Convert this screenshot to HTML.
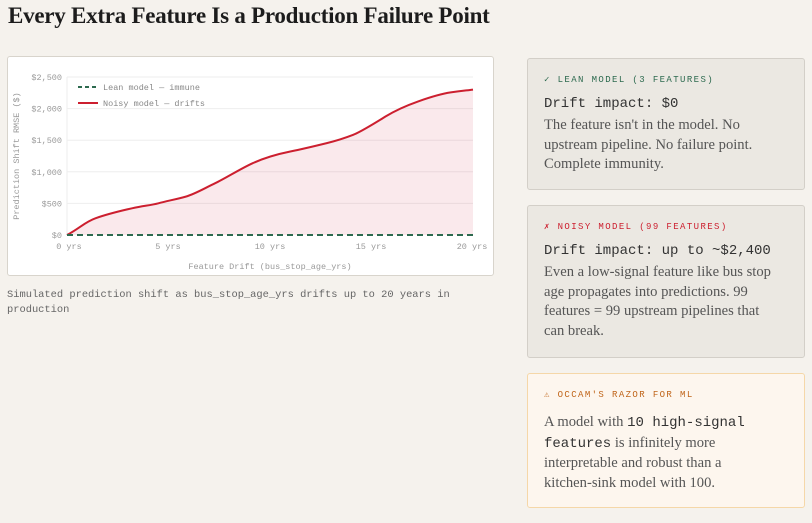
<!DOCTYPE html>
<html><head><meta charset="utf-8"><style>
body{margin:0;width:812px;height:523px;background:#f5f2ed;position:relative;overflow:hidden;font-family:"Liberation Serif",serif;color:#444}
h1{position:absolute;left:8px;top:3px;margin:0;font-size:23px;font-weight:bold;color:#1c1c1c;letter-spacing:-0.25px}
.chart{position:absolute;left:7px;top:56px;width:485px;height:218px;background:#fff;border:1px solid #d8d4cc;border-radius:3px}
.cap{position:absolute;left:7px;top:288px;width:480px;font-family:"Liberation Mono",monospace;font-size:10.4px;line-height:15px;color:#666}
.card{position:absolute;left:527px;width:278px;border:1px solid #d3cfc8;border-radius:3px;background:#ebe8e2;box-sizing:border-box;padding:0 24px 0 16px}
.lab{font-family:"Liberation Mono",monospace;font-size:9px;letter-spacing:1.4px;margin-top:16px}
.big{font-family:"Liberation Mono",monospace;font-size:14px;color:#333;margin-top:11px}
.txt{font-size:14.6px;line-height:19.5px;color:#555;margin-top:4px}
.m{font-family:"Liberation Mono",monospace;color:#333;font-size:14px}
</style></head><body>
<h1>Every Extra Feature Is a Production Failure Point</h1>
<div class="chart"></div>
<svg style="position:absolute;left:0;top:0" width="500" height="280" font-family="Liberation Mono, monospace">
<g stroke="#eeeeee" stroke-width="1">
<line x1="67" x2="473" y1="77" y2="77"/><line x1="67" x2="473" y1="108.6" y2="108.6"/><line x1="67" x2="473" y1="140.2" y2="140.2"/><line x1="67" x2="473" y1="171.8" y2="171.8"/><line x1="67" x2="473" y1="203.4" y2="203.4"/><line x1="67" x2="67" y1="77" y2="235"/></g>
<g font-size="8.5" fill="#999" text-anchor="end">
<text x="62" y="80">$2,500</text><text x="62" y="111.6">$2,000</text><text x="62" y="143.2">$1,500</text><text x="62" y="174.8">$1,000</text><text x="62" y="206.4">$500</text><text x="62" y="238">$0</text></g>
<g font-size="8.5" fill="#999" text-anchor="middle">
<text x="69" y="249">0 yrs</text><text x="168" y="249">5 yrs</text><text x="270" y="249">10 yrs</text><text x="371" y="249">15 yrs</text><text x="472" y="249">20 yrs</text>
<text x="270" y="269">Feature Drift (bus_stop_age_yrs)</text>
<text transform="translate(19,156) rotate(-90)">Prediction Shift RMSE ($)</text></g>
<path d="M67,235 C80,228 85,222 95.4,218.3 S120,211 132,208.3 S150,205.5 158.4,203.3 S177,199 185.8,196.6 S205,188 215.2,183.2 S240,169 252.7,163.2 S278,154 290.3,151.5 S315,146 326.8,143.1 S345,138 353.2,134.8 S375,123 385.7,116.4 S408,105 418.2,101.4 S440,94 450.7,92.4 S466,90.5 473,89.6 L473,235 Z" fill="#c8102e" fill-opacity="0.09"/>
<path d="M67,235 C80,228 85,222 95.4,218.3 S120,211 132,208.3 S150,205.5 158.4,203.3 S177,199 185.8,196.6 S205,188 215.2,183.2 S240,169 252.7,163.2 S278,154 290.3,151.5 S315,146 326.8,143.1 S345,138 353.2,134.8 S375,123 385.7,116.4 S408,105 418.2,101.4 S440,94 450.7,92.4 S466,90.5 473,89.6" fill="none" stroke="#cc1f2f" stroke-width="2"/>
<line x1="67" x2="473" y1="235" y2="235" stroke="#2d6a4f" stroke-width="2" stroke-dasharray="6,4"/>
<line x1="78" x2="98" y1="87" y2="87" stroke="#2d6a4f" stroke-width="2" stroke-dasharray="4,3"/>
<line x1="78" x2="98" y1="103" y2="103" stroke="#cc1f2f" stroke-width="2"/>
<g font-size="8.5" fill="#888"><text x="103" y="90">Lean model — immune</text><text x="103" y="106">Noisy model — drifts</text></g>
</svg>
<div class="cap">Simulated prediction shift as bus_stop_age_yrs drifts up to 20 years in production</div>
<div class="card" style="top:58px;height:132px"><div class="lab" style="color:#2d6a4f">✓ LEAN MODEL (3 FEATURES)</div><div class="big">Drift impact: $0</div><div class="txt">The feature isn't in the model. No upstream pipeline. No failure point. Complete immunity.</div></div>
<div class="card" style="top:205px;height:153px"><div class="lab" style="color:#cc1f2f">✗ NOISY MODEL (99 FEATURES)</div><div class="big">Drift impact: up to ~$2,400</div><div class="txt">Even a low-signal feature like bus stop age propagates into predictions. 99 features = 99 upstream pipelines that<br>can break.</div></div>
<div class="card" style="top:373px;height:135px;background:#fdf6ee;border-color:#f5d7a8"><div class="lab" style="color:#c0651a">⚠ OCCAM'S RAZOR FOR ML</div><div class="txt" style="margin-top:13px">A model with <span class="m">10 high-signal features</span> is infinitely more interpretable and robust than a<br>kitchen&#8209;sink model with 100.</div></div>
</body></html>
